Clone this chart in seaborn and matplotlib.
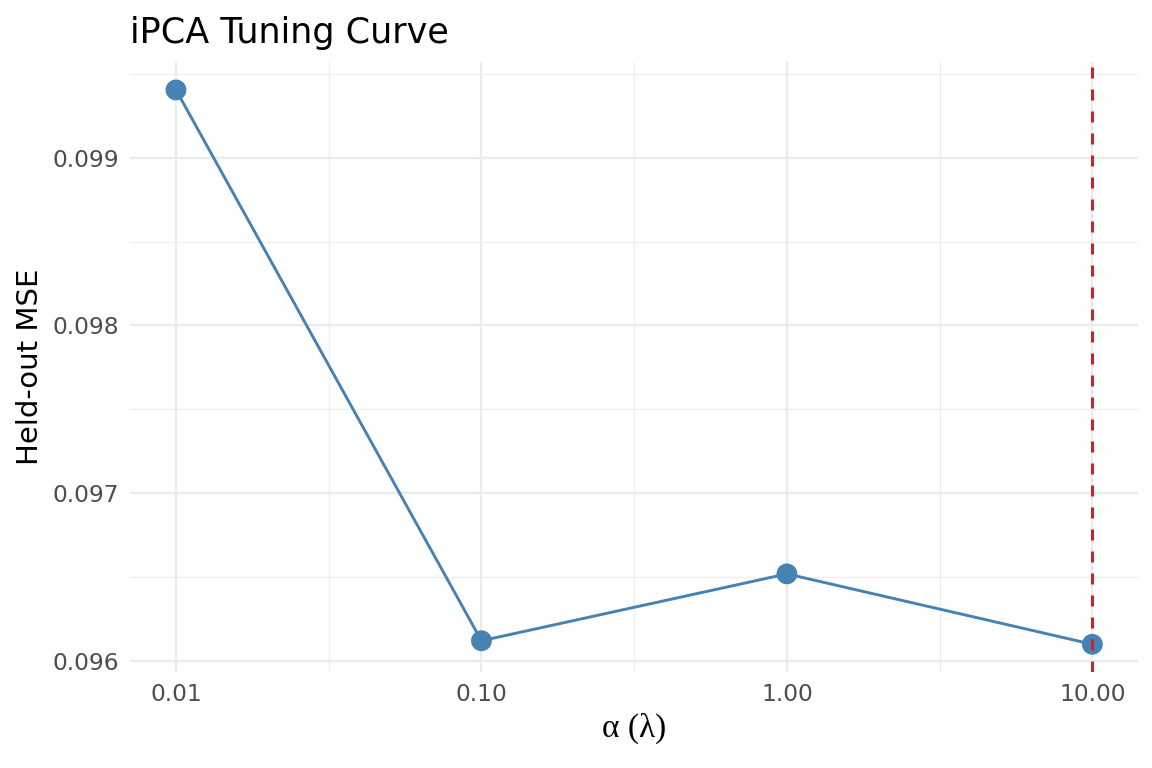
import numpy as np
import pandas as pd
import seaborn as sns
import matplotlib.pyplot as plt
from matplotlib.ticker import FixedLocator, FixedFormatter

# values
alpha = [0.01, 0.1, 1.0, 10.0]
mse = [0.099405, 0.096119, 0.096518, 0.096098]
best_alpha = 10.0

x_ticks = [0.01, 0.1, 1.0, 10.0]
x_labels = ["0.01", "0.10", "1.00", "10.00"]
y_ticks = [0.096, 0.097, 0.098, 0.099]
y_labels = ["0.096", "0.097", "0.098", "0.099"]

df = pd.DataFrame({"alpha": alpha, "mse": mse})

sns.set_theme(style="white")
plt.rcParams["font.family"] = ["DejaVu Sans"]

fig = plt.figure(figsize=(11.52, 7.68), dpi=100)
ax = fig.add_axes([0.113, 0.125, 0.875, 0.794])

ax.set_xscale("log")
sns.lineplot(data=df, x="alpha", y="mse", color="#4682B4", linewidth=2.1, ax=ax, zorder=3)
sns.scatterplot(data=df, x="alpha", y="mse", color="#4682B4", s=225, edgecolor="none", ax=ax, zorder=4)
ax.axvline(best_alpha, color="#C42828", linewidth=2.2, dashes=(3.6, 3.6), zorder=5)

# ggplot-like 5% expansion
lx = np.log10(alpha)
span = lx.max() - lx.min()
ax.set_xlim(10 ** (lx.min() - 0.05 * span), 10 ** (lx.max() + 0.05 * span))
yspan = max(mse) - min(mse)
ax.set_ylim(min(mse) - 0.05 * yspan, max(mse) + 0.05 * yspan)

ax.xaxis.set_major_locator(FixedLocator(x_ticks))
ax.xaxis.set_major_formatter(FixedFormatter(x_labels))
ax.xaxis.set_minor_locator(FixedLocator([10 ** -1.5, 10 ** -0.5, 10 ** 0.5]))
ax.xaxis.set_minor_formatter(FixedFormatter(["", "", ""]))
ax.yaxis.set_major_locator(FixedLocator(y_ticks))
ax.yaxis.set_major_formatter(FixedFormatter(y_labels))
ax.yaxis.set_minor_locator(FixedLocator([0.0965, 0.0975, 0.0985, 0.0995]))

ax.grid(which="major", color="#EBEBEB", linewidth=1.6, zorder=0)
ax.grid(which="minor", color="#EEEEEE", linewidth=0.9, zorder=0)
ax.set_axisbelow(True)
for s in ax.spines.values():
    s.set_visible(False)
ax.tick_params(which="both", length=0, labelsize=16.8, labelcolor="#4D4D4D", pad=8)

ax.set_title("iPCA Tuning Curve", loc="left", fontsize=25.2, pad=14, color="black")
ax.set_xlabel("α (λ)", fontsize=24, family=["Liberation Serif", "DejaVu Serif"],
              labelpad=5, color="black")
ax.set_ylabel("Held-out MSE", fontsize=21, labelpad=6, color="black")

fig.savefig("out.png", dpi=100)
